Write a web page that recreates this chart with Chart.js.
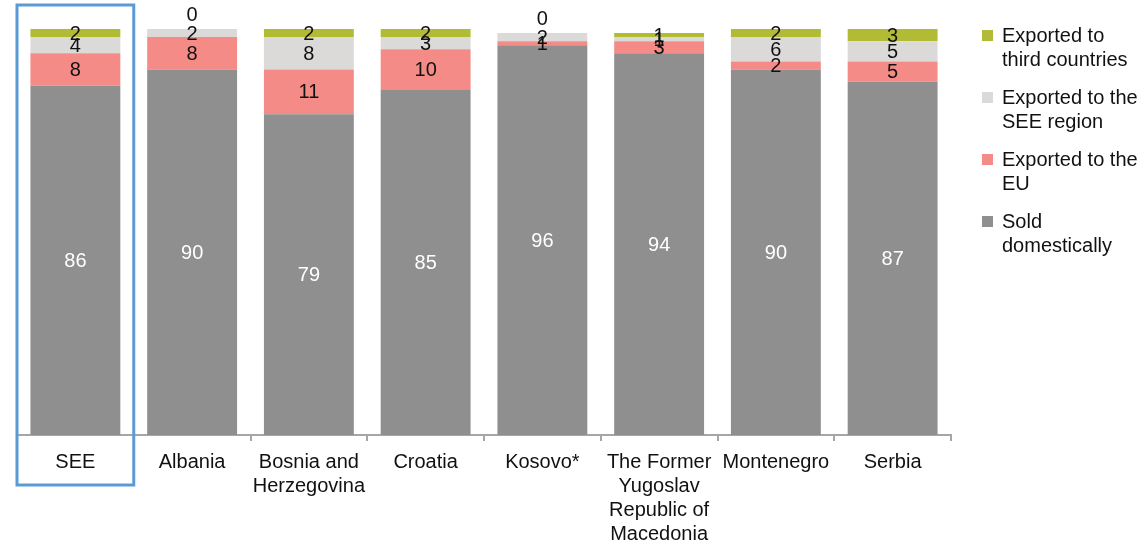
<!DOCTYPE html>
<html>
<head>
<meta charset="utf-8">
<script src="https://cdn.jsdelivr.net/npm/chart.js@4"></script>
<style>
    html, body { margin: 0; padding: 0; background: #fff; }
    #wrap { width: 1140px; height: 546px; position: relative; }
</style>
</head>
<body>
<div id="wrap"><canvas id="my-chart"></canvas></div>
<script>
// * Share of output by destination, per economy (stacked to 100)

const countries = [
    'SEE',
    'Albania',
    ['Bosnia and', 'Herzegovina'],
    'Croatia',
    'Kosovo*',
    ['The Former', 'Yugoslav', 'Republic of', 'Macedonia'],
    'Montenegro',
    'Serbia'
]
const soldDomestically = [86, 90, 79, 85, 96, 94, 90, 87]
const exportedEU = [8, 8, 11, 10, 1, 3, 2, 5]
const exportedSEE = [4, 2, 8, 3, 2, 1, 6, 5]
const exportedThird = [2, 0, 2, 2, 0, 1, 2, 3]

const ctx = document.getElementById('my-chart')
const fontFamily = "'Liberation Sans', Arial, sans-serif"

// legend order is top-down, same as the stack
const legendItems = [
    { lines: ['Exported to', 'third countries'], color: '#b1bc34' },
    { lines: ['Exported to the', 'SEE region'], color: '#dcd9d9' },
    { lines: ['Exported to the', 'EU'], color: '#f58b87' },
    { lines: ['Sold', 'domestically'], color: '#8f8f8f' }
]

// value labels inside every segment
const segmentLabels = {
    id: 'segmentLabels',
    afterDatasetsDraw(chart) {
        const c = chart.ctx
        c.save()
        c.font = '20px ' + fontFamily
        c.textAlign = 'center'
        c.textBaseline = 'middle'
        chart.data.datasets.forEach((ds, di) => {
            const meta = chart.getDatasetMeta(di)
            meta.data.forEach((bar, i) => {
                const v = ds.data[i]
                let y = (bar.y + bar.base) / 2
                if (v === 0) y = bar.y - 15
                c.fillStyle = di === 0 ? '#ffffff' : '#111111'
                c.fillText(String(v), bar.x, y + 1)
            })
        })
        c.restore()
    }
}

// multi-line legend on the right + box round the SEE column
const sideLegend = {
    id: 'sideLegend',
    afterDraw(chart) {
        const c = chart.ctx
        const x = chart.scales.x
        const area = chart.chartArea
        const catW = (x.right - x.left) / countries.length

        c.save()
        c.strokeStyle = '#5b9bd5'
        c.lineWidth = 3
        c.strokeRect(x.left, area.top - 24, catW, area.bottom - area.top + 74)

        c.font = '20px ' + fontFamily
        c.textBaseline = 'middle'
        legendItems.forEach((item, i) => {
            const top = 36 + i * 62
            c.fillStyle = item.color
            c.fillRect(982, top - 6, 11, 11)
            c.fillStyle = '#111111'
            item.lines.forEach((line, j) => {
                c.fillText(line, 1002, top + j * 24)
            })
        })
        c.restore()
    }
}

new Chart(ctx, {
    type: 'bar',
    data: {
        labels: countries,
        datasets: [
            { label: 'Sold domestically', data: soldDomestically, backgroundColor: '#8f8f8f' },
            { label: 'Exported to the EU', data: exportedEU, backgroundColor: '#f58b87' },
            { label: 'Exported to the SEE region', data: exportedSEE, backgroundColor: '#dcd9d9' },
            { label: 'Exported to third countries', data: exportedThird, backgroundColor: '#b1bc34' }
        ]
    },
    options: {
        responsive: true,
        maintainAspectRatio: false,
        animation: false,
        layout: {
            padding: { left: 17, right: 189, top: 29, bottom: 0 }
        },
        datasets: {
            bar: {
                barPercentage: 0.77,
                categoryPercentage: 1
            }
        },
        plugins: {
            legend: { display: false },
            tooltip: { enabled: false }
        },
        scales: {
            x: {
                stacked: true,
                offset: true,
                afterFit(scale) {
                    scale.height = 111
                },
                border: { display: true, color: '#a6a6a6', width: 2 },
                grid: {
                    offset: true,
                    drawOnChartArea: false,
                    drawTicks: true,
                    tickLength: 6,
                    color: '#a6a6a6',
                    lineWidth: 2
                },
                ticks: {
                    color: '#111111',
                    padding: 9,
                    maxRotation: 0,
                    autoSkip: false,
                    font: { family: fontFamily, size: 20, lineHeight: 1.2 }
                }
            },
            y: {
                stacked: true,
                display: false,
                min: 0,
                max: 100
            }
        }
    },
    plugins: [segmentLabels, sideLegend]
})
</script>
</body>
</html>
